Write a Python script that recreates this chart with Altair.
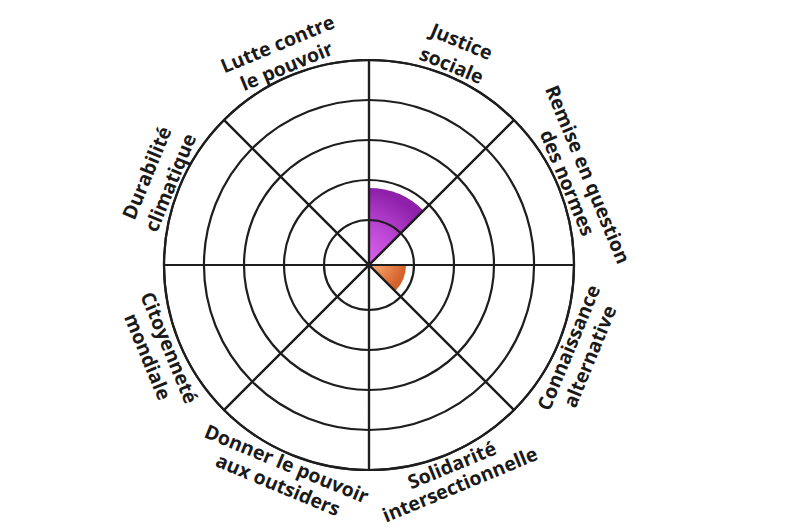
import altair as alt
import pandas as pd

# Categories in clockwise order starting at 12 o'clock
categories = [
    "Justice sociale",
    "Remise en question des normes",
    "Connaissance alternative",
    "Solidarité intersectionnelle",
    "Donner le pouvoir aux outsiders",
    "Citoyenneté mondiale",
    "Durabilité climatique",
    "Lutte contre le pouvoir",
]
label_line1 = ["Justice", "Remise en question", "Connaissance", "Solidarité",
               "Donner le pouvoir", "Citoyenneté", "Durabilité", "Lutte contre"]
label_line2 = ["sociale", "des normes", "alternative", "intersectionnelle",
               "aux outsiders", "mondiale", "climatique", "le pouvoir"]
scores = [1.8, 0, 0.8, 0, 0, 0, 0, 0]
ring_levels = [1, 2, 3, 4, 5]
max_level = 5

FONT_SIZE = 19.5

# rough Open Sans Bold advance widths (em) - only used to estimate line length
cw = {" ": .26, "a": .586, "b": .631, "c": .51, "d": .631, "e": .599, "é": .599,
      "f": .391, "g": .565, "h": .657, "i": .305, "j": .305, "k": .62, "l": .305,
      "m": .99, "n": .657, "o": .618, "p": .631, "q": .631, "r": .454, "s": .5,
      "t": .434, "u": .657, "v": .58, "w": .862, "x": .6, "y": .58, "z": .492,
      "J": .331, "R": .664, "C": .628, "S": .55, "D": .73, "L": .53}


def text_len(t):
    return sum(cw.get(ch, .6) for ch in t) * FONT_SIZE


def sag(t, R):
    L = text_len(t)
    return L * L / (8 * R)


n = len(categories)
step = 360 / n
df = pd.DataFrame({
    "cat": categories,
    "score": scores,
    "start": [i * step for i in range(n)],
    "end": [(i + 1) * step for i in range(n)],
})
df["mid"] = (df["start"] + df["end"]) / 2
df["outer"] = max_level

# radius, chord compensation for outer / inner lines, min line spacing
place_top = dict(ro=242, co=0.5, ri=216, ci=0.3, gap=22)
place_bottom = dict(ro=242, co=0.35, ri=218, ci=0.1, gap=21)

rows = []
for i in range(n):
    mid = df["mid"][i]
    top = mid < 90 or mid > 270
    rot = mid if top else (mid - 180) % 360
    outer_txt, inner_txt = (label_line1[i], label_line2[i]) if top else (label_line2[i], label_line1[i])
    p = place_top if top else place_bottom
    r_in = p["ri"] - p["ci"] * sag(inner_txt, p["ri"])
    r_out = max(p["ro"] - p["co"] * sag(outer_txt, p["ro"]), r_in + p["gap"])
    rows.append({"text": outer_txt, "mid": mid, "rot": rot, "rpx": r_out})
    rows.append({"text": inner_txt, "mid": mid, "rot": rot, "rpx": r_in})
lab = pd.DataFrame(rows)

rings = pd.DataFrame({"level": ring_levels, "start": 0, "end": 360})

theta_scale = alt.Scale(domain=[0, 360], range=[0, 6.283185307179586])
r_scale = alt.Scale(type="linear", domain=[0, max_level], range=[5, 205], zero=False)

purple = alt.RadialGradient(
    gradient="radial",
    stops=[alt.GradientStop(color="#e26af4", offset=0),
           alt.GradientStop(color="#c04ad8", offset=0.5),
           alt.GradientStop(color="#8e20aa", offset=1)],
    x1=0, y1=1, r1=0, x2=0, y2=1, r2=1,
)
orange = alt.RadialGradient(
    gradient="radial",
    stops=[alt.GradientStop(color="#f8b890", offset=0),
           alt.GradientStop(color="#ec8a52", offset=0.5),
           alt.GradientStop(color="#d4602a", offset=1)],
    x1=0, y1=0, r1=0, x2=0, y2=0, r2=1,
)

base = alt.Chart(df)


def sector(cat, grad):
    return base.transform_filter(alt.datum.cat == cat).mark_arc(stroke=None).encode(
        theta=alt.Theta("start:Q", scale=theta_scale),
        theta2="end:Q",
        radius=alt.Radius("score:Q", scale=r_scale),
        radius2=alt.value(0),
        fill=alt.value(grad),
    )


sec_purple = sector(categories[0], purple)
sec_orange = sector(categories[2], orange)

ring_layer = alt.Chart(rings).mark_arc(fillOpacity=0, stroke="#1e1e1e", strokeWidth=2.2).encode(
    theta=alt.Theta("start:Q", scale=theta_scale),
    theta2="end:Q",
    radius=alt.Radius("level:Q", scale=r_scale),
    radius2=alt.value(0),
)

spokes = base.mark_arc(fillOpacity=0, stroke="#1e1e1e", strokeWidth=2.2, strokeJoin="round").encode(
    theta=alt.Theta("start:Q", scale=theta_scale),
    theta2="end:Q",
    radius=alt.Radius("outer:Q", scale=r_scale),
    radius2=alt.value(0),
)

labels = alt.Chart(lab).mark_text(
    font="Open Sans", fontWeight="bold", fontSize=FONT_SIZE, color="#1a1a1a",
    align="center", baseline="middle",
).encode(
    theta=alt.Theta("mid:Q", scale=theta_scale),
    radius=alt.Radius("rpx:Q", scale=None),
    angle=alt.Angle("rot:Q", scale=None),
    text="text:N",
)

chart = alt.layer(sec_purple, sec_orange, ring_layer, spokes, labels).properties(
    width=722, height=514,
    autosize=alt.AutoSizeParams(type="none"),
    padding={"left": 0, "top": 0, "right": 0, "bottom": 5},
).configure_view(stroke=None)

chart.save("out.html", embed_options={"renderer": "svg", "actions": False})
